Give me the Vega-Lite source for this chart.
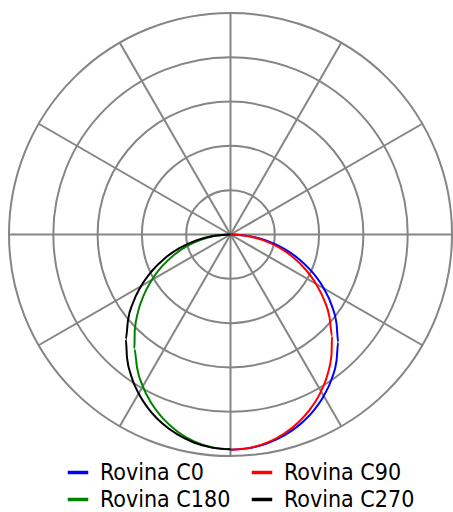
{
  "$schema": "https://vega.github.io/schema/vega-lite/v6.json",
  "width": 443,
  "height": 443,
  "padding": {"left": 9, "top": 13, "right": 1, "bottom": 56},
  "autosize": {"type": "none"},
  "background": "white",
  "config": {"view": {"stroke": null}, "font": "DejaVu Sans Condensed"},
  "datasets": {
    "rings": [{"r": 100}, {"r": 200}, {"r": 300}, {"r": 400}, {"r": 500}],
    "spokes": [{"a": 0}, {"a": 30}, {"a": 60}, {"a": 90}, {"a": 120}, {"a": 150}, {"a": 180}, {"a": 210}, {"a": 240}, {"a": 270}, {"a": 300}, {"a": 330}],
    "curves": [
      {"series": "Rovina C0", "plane": 0, "gamma": 0, "I": 486},
      {"series": "Rovina C0", "plane": 0, "gamma": 5, "I": 484.1},
      {"series": "Rovina C0", "plane": 0, "gamma": 10, "I": 478.6},
      {"series": "Rovina C0", "plane": 0, "gamma": 15, "I": 469.4},
      {"series": "Rovina C0", "plane": 0, "gamma": 20, "I": 456.7},
      {"series": "Rovina C0", "plane": 0, "gamma": 25, "I": 440.5},
      {"series": "Rovina C0", "plane": 0, "gamma": 30, "I": 420.9},
      {"series": "Rovina C0", "plane": 0, "gamma": 35, "I": 398.1},
      {"series": "Rovina C0", "plane": 0, "gamma": 40, "I": 372.3},
      {"series": "Rovina C0", "plane": 0, "gamma": 45, "I": 343.7},
      {"series": "Rovina C0", "plane": 0, "gamma": 50, "I": 312.4},
      {"series": "Rovina C0", "plane": 0, "gamma": 55, "I": 278.8},
      {"series": "Rovina C0", "plane": 0, "gamma": 60, "I": 243.0},
      {"series": "Rovina C0", "plane": 0, "gamma": 65, "I": 205.4},
      {"series": "Rovina C0", "plane": 0, "gamma": 70, "I": 166.2},
      {"series": "Rovina C0", "plane": 0, "gamma": 75, "I": 125.8},
      {"series": "Rovina C0", "plane": 0, "gamma": 80, "I": 84.4},
      {"series": "Rovina C0", "plane": 0, "gamma": 85, "I": 42.4},
      {"series": "Rovina C0", "plane": 0, "gamma": 90, "I": 0},
      {"series": "Rovina C90", "plane": 90, "gamma": 0, "I": 486},
      {"series": "Rovina C90", "plane": 90, "gamma": 5, "I": 483.7},
      {"series": "Rovina C90", "plane": 90, "gamma": 10, "I": 476.9},
      {"series": "Rovina C90", "plane": 90, "gamma": 15, "I": 465.7},
      {"series": "Rovina C90", "plane": 90, "gamma": 20, "I": 450.4},
      {"series": "Rovina C90", "plane": 90, "gamma": 25, "I": 431.3},
      {"series": "Rovina C90", "plane": 90, "gamma": 30, "I": 408.7},
      {"series": "Rovina C90", "plane": 90, "gamma": 35, "I": 383.0},
      {"series": "Rovina C90", "plane": 90, "gamma": 40, "I": 354.7},
      {"series": "Rovina C90", "plane": 90, "gamma": 45, "I": 324.3},
      {"series": "Rovina C90", "plane": 90, "gamma": 50, "I": 291.9},
      {"series": "Rovina C90", "plane": 90, "gamma": 55, "I": 258.1},
      {"series": "Rovina C90", "plane": 90, "gamma": 60, "I": 223.0},
      {"series": "Rovina C90", "plane": 90, "gamma": 65, "I": 187.0},
      {"series": "Rovina C90", "plane": 90, "gamma": 70, "I": 150.3},
      {"series": "Rovina C90", "plane": 90, "gamma": 75, "I": 113.2},
      {"series": "Rovina C90", "plane": 90, "gamma": 80, "I": 75.6},
      {"series": "Rovina C90", "plane": 90, "gamma": 85, "I": 37.9},
      {"series": "Rovina C90", "plane": 90, "gamma": 90, "I": 0},
      {"series": "Rovina C180", "plane": 180, "gamma": 0, "I": 485},
      {"series": "Rovina C180", "plane": 180, "gamma": 5, "I": 482.2},
      {"series": "Rovina C180", "plane": 180, "gamma": 10, "I": 474.1},
      {"series": "Rovina C180", "plane": 180, "gamma": 15, "I": 460.8},
      {"series": "Rovina C180", "plane": 180, "gamma": 20, "I": 443.0},
      {"series": "Rovina C180", "plane": 180, "gamma": 25, "I": 421.2},
      {"series": "Rovina C180", "plane": 180, "gamma": 30, "I": 395.8},
      {"series": "Rovina C180", "plane": 180, "gamma": 35, "I": 367.6},
      {"series": "Rovina C180", "plane": 180, "gamma": 40, "I": 337.4},
      {"series": "Rovina C180", "plane": 180, "gamma": 45, "I": 305.6},
      {"series": "Rovina C180", "plane": 180, "gamma": 50, "I": 272.6},
      {"series": "Rovina C180", "plane": 180, "gamma": 55, "I": 239.1},
      {"series": "Rovina C180", "plane": 180, "gamma": 60, "I": 205.0},
      {"series": "Rovina C180", "plane": 180, "gamma": 65, "I": 170.7},
      {"series": "Rovina C180", "plane": 180, "gamma": 70, "I": 136.5},
      {"series": "Rovina C180", "plane": 180, "gamma": 75, "I": 102.2},
      {"series": "Rovina C180", "plane": 180, "gamma": 80, "I": 68.2},
      {"series": "Rovina C180", "plane": 180, "gamma": 85, "I": 34.1},
      {"series": "Rovina C180", "plane": 180, "gamma": 90, "I": 0},
      {"series": "Rovina C270", "plane": 270, "gamma": 0, "I": 485},
      {"series": "Rovina C270", "plane": 270, "gamma": 5, "I": 482.9},
      {"series": "Rovina C270", "plane": 270, "gamma": 10, "I": 476.8},
      {"series": "Rovina C270", "plane": 270, "gamma": 15, "I": 466.7},
      {"series": "Rovina C270", "plane": 270, "gamma": 20, "I": 452.9},
      {"series": "Rovina C270", "plane": 270, "gamma": 25, "I": 435.4},
      {"series": "Rovina C270", "plane": 270, "gamma": 30, "I": 414.5},
      {"series": "Rovina C270", "plane": 270, "gamma": 35, "I": 390.4},
      {"series": "Rovina C270", "plane": 270, "gamma": 40, "I": 363.4},
      {"series": "Rovina C270", "plane": 270, "gamma": 45, "I": 334.0},
      {"series": "Rovina C270", "plane": 270, "gamma": 50, "I": 302.2},
      {"series": "Rovina C270", "plane": 270, "gamma": 55, "I": 268.6},
      {"series": "Rovina C270", "plane": 270, "gamma": 60, "I": 233.2},
      {"series": "Rovina C270", "plane": 270, "gamma": 65, "I": 196.3},
      {"series": "Rovina C270", "plane": 270, "gamma": 70, "I": 158.3},
      {"series": "Rovina C270", "plane": 270, "gamma": 75, "I": 119.5},
      {"series": "Rovina C270", "plane": 270, "gamma": 80, "I": 80.0},
      {"series": "Rovina C270", "plane": 270, "gamma": 85, "I": 40.2},
      {"series": "Rovina C270", "plane": 270, "gamma": 90, "I": 0}
    ]
  },
  "layer": [
    {
      "data": {"name": "rings"},
      "transform": [{"calculate": "0", "as": "c0"}],
      "mark": {"type": "point", "shape": "circle", "filled": false, "stroke": "#858585", "strokeWidth": 2, "opacity": 1},
      "encoding": {
        "x": {"field": "c0", "type": "quantitative", "scale": {"domain": [-500, 500], "nice": false, "zero": false}, "axis": null},
        "y": {"field": "c0", "type": "quantitative", "scale": {"domain": [-500, 500], "nice": false, "zero": false}, "axis": null},
        "size": {"field": "r", "type": "quantitative", "scale": {"type": "pow", "exponent": 2, "domain": [0, 500], "range": [0, 196249]}, "legend": null}
      }
    },
    {
      "data": {"name": "spokes"},
      "transform": [
        {"calculate": "0", "as": "c0"},
        {"calculate": "500*sin(datum.a*PI/180)", "as": "ex"},
        {"calculate": "500*cos(datum.a*PI/180)", "as": "ey"}
      ],
      "mark": {"type": "rule", "stroke": "#858585", "strokeWidth": 2},
      "encoding": {
        "x": {"field": "c0", "type": "quantitative"},
        "y": {"field": "c0", "type": "quantitative"},
        "x2": {"field": "ex"},
        "y2": {"field": "ey"}
      }
    },
    {
      "data": {"name": "curves"},
      "transform": [
        {"calculate": "(datum.plane >= 180 ? -1 : 1) * datum.I * sin(datum.gamma*PI/180)", "as": "px"},
        {"calculate": "-datum.I * cos(datum.gamma*PI/180)", "as": "py"}
      ],
      "mark": {"type": "line", "strokeWidth": 2, "interpolate": "monotone"},
      "encoding": {
        "x": {"field": "px", "type": "quantitative"},
        "y": {"field": "py", "type": "quantitative"},
        "order": {"field": "gamma", "type": "quantitative"},
        "color": {
          "field": "series",
          "type": "nominal",
          "scale": {"domain": ["Rovina C0", "Rovina C90", "Rovina C180", "Rovina C270"], "range": ["#0000ff", "#ff0000", "#008000", "#000000"]},
          "legend": {
            "title": null,
            "orient": "none",
            "legendX": 57,
            "legendY": 447.5,
            "columns": 2,
            "direction": "horizontal",
            "padding": 0,
            "columnPadding": 13,
            "rowPadding": 3,
            "symbolType": "stroke",
            "symbolSize": 420,
            "symbolStrokeWidth": 3.5,
            "labelFont": "DejaVu Sans Condensed",
            "labelFontSize": 23,
            "labelColor": "#000000",
            "labelOffset": 10,
            "labelLimit": 300
          }
        }
      }
    }
  ]
}
